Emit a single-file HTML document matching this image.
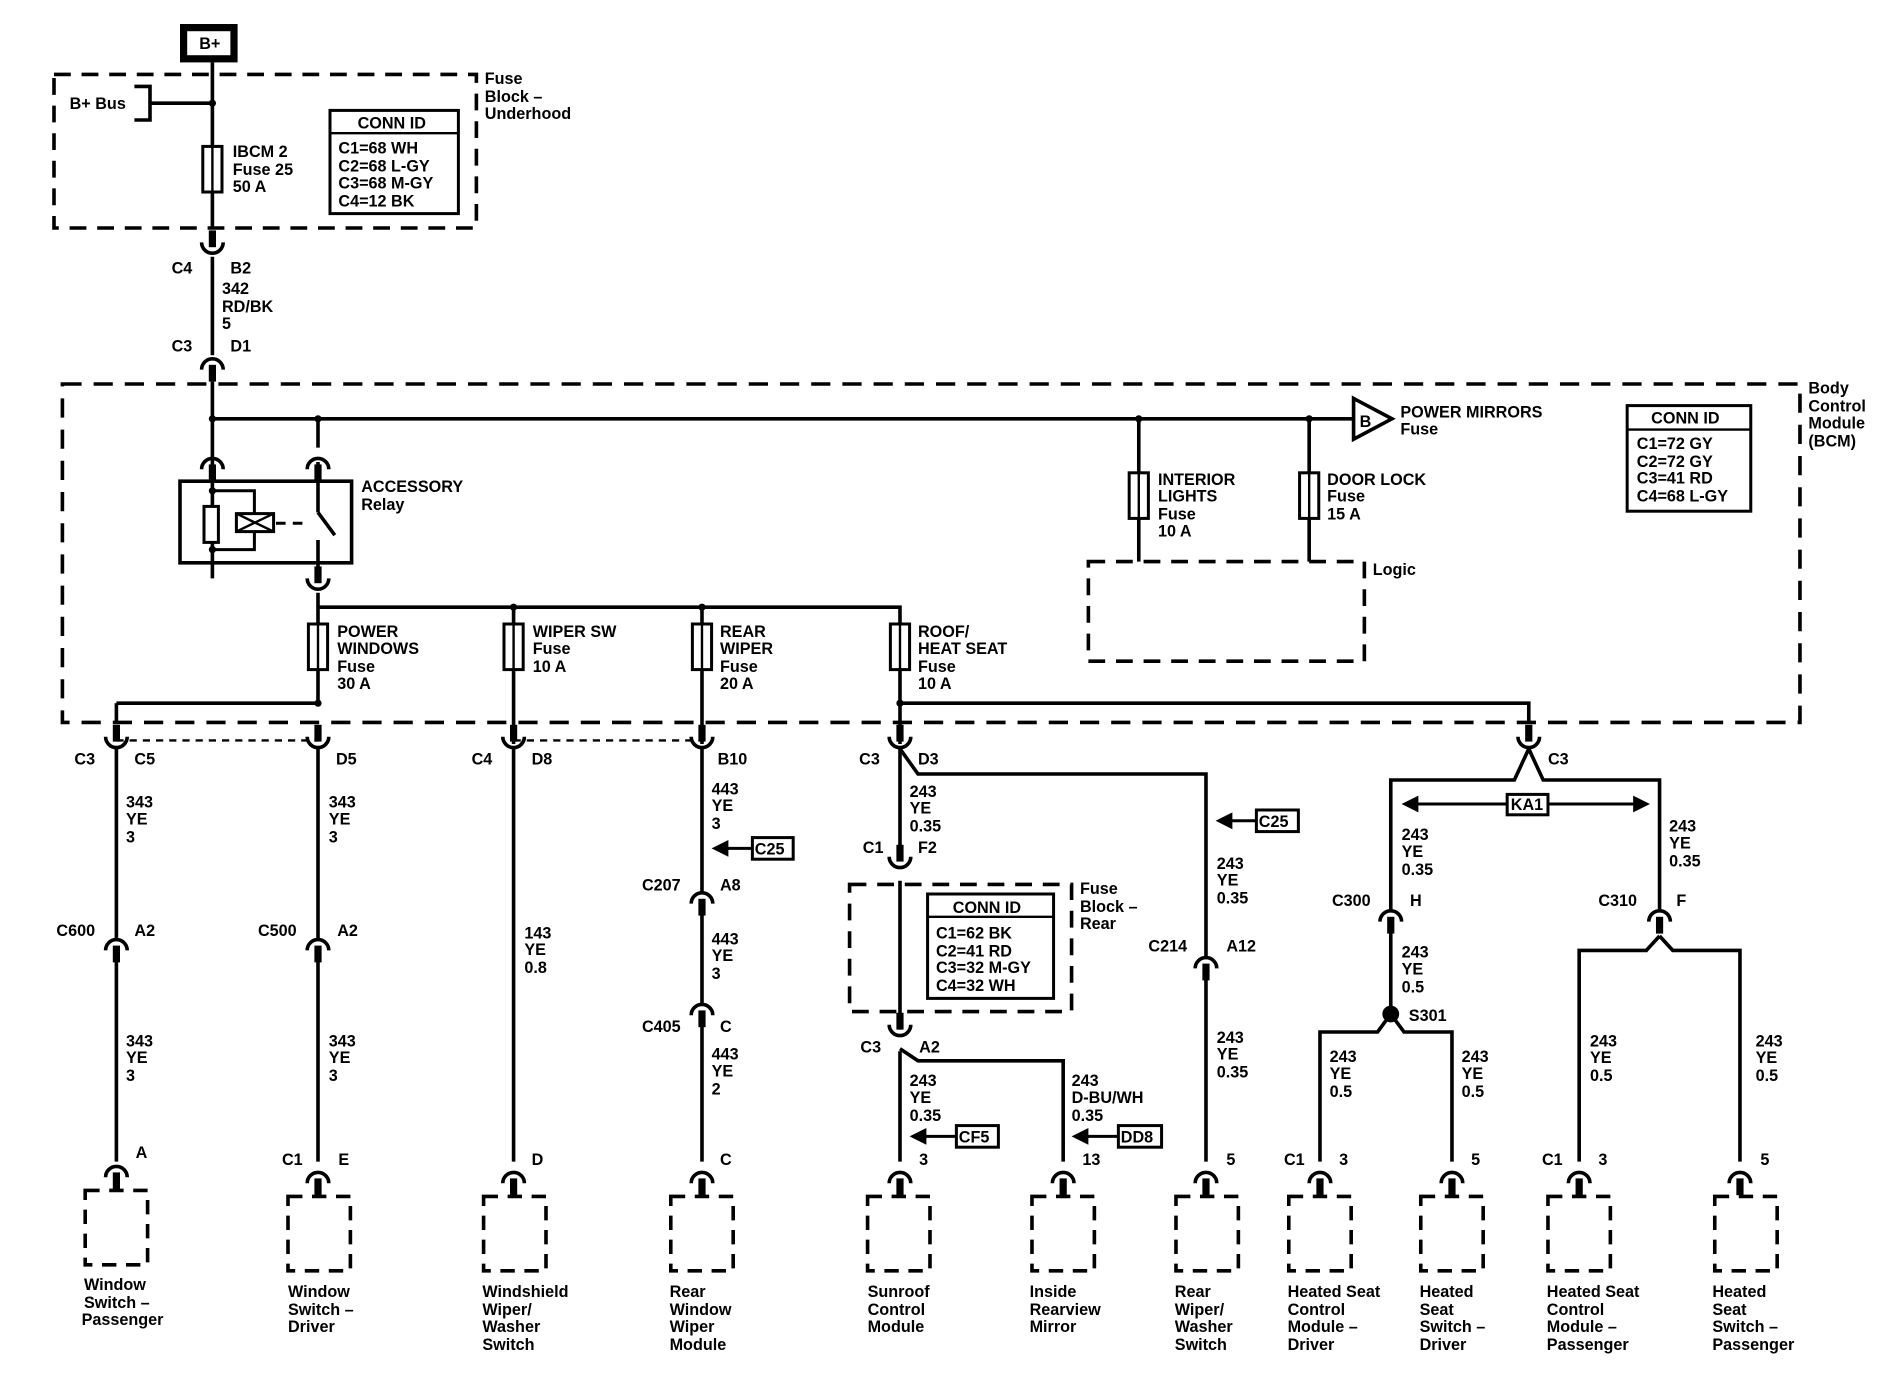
<!DOCTYPE html>
<html><head><meta charset="utf-8"><style>
html,body{margin:0;padding:0;background:#fff}
svg{display:block}
text{font-family:"Liberation Sans",Arial,sans-serif;font-size:13.5px;font-weight:bold;fill:#000}
</style></head><body>
<svg width="1880" height="1392" viewBox="0 0 1566.7 1160" xmlns="http://www.w3.org/2000/svg">
<defs>
<g id="cu"><path d="M0,-16V-2" stroke="#000" stroke-width="6"/><path d="M-9,-6 A9,9 0 0 0 9,-6" fill="none" stroke="#000" stroke-width="3"/></g>
<g id="ca"><path d="M0,2V16" stroke="#000" stroke-width="6"/><path d="M-9,6 A9,9 0 0 1 9,6" fill="none" stroke="#000" stroke-width="3"/></g>
<g id="fuse"><rect x="-8" y="0" width="16" height="38" fill="#fff" stroke="#000" stroke-width="2.5"/><path d="M0,0V38" stroke="#000" stroke-width="2"/></g>
<g id="bx"><rect x="-26" y="0" width="52" height="62" fill="none" stroke="#000" stroke-width="3" stroke-dasharray="12,8"/></g>
</defs>
<g fill="none" stroke="#000" stroke-width="3">
<rect x="153" y="23" width="42" height="26" stroke-width="6"/>
<rect x="45" y="62" width="352" height="128" stroke-dasharray="14,9"/>
<path d="M177,52V190 M177,214V296 M177,318V482"/>
<path d="M112,72H125V100H112 M125,86H177"/>
<rect x="275" y="92" width="107" height="86" stroke-width="2.5"/><path d="M275,111H382" stroke-width="2"/>
<rect x="52" y="320" width="1448" height="282" stroke-dasharray="16,10"/>
<path d="M177,349H1128 M265,349V373"/>
<path d="M1128,332L1160,349L1128,366Z" fill="#fff"/>
<rect x="150" y="401" width="143" height="68"/>
<path d="M177,409H212V428 M212,443V458H177" stroke-width="2.5"/>
<rect x="197" y="428" width="31" height="15" stroke-width="2.5"/><path d="M197,428L228,443M197,443L228,428" stroke-width="2"/>
<path d="M230,436H258" stroke-dasharray="8,6" stroke-width="2.5"/>
<path d="M265,385V427 M265,427L279,446 M265,450V480 M265,494V586"/>
<path d="M265,506H750V586 M428,506V620 M585,506V620"/>
<path d="M97,586H265 M750,586H1274V602 M750,586V620 M949,349V468 M1091,349V468"/>
<rect x="907" y="468" width="230" height="83" stroke-dasharray="14,9"/>
<rect x="1356" y="338" width="103" height="88" stroke-width="2.5"/><path d="M1356,358H1459" stroke-width="2"/>
<path d="M97,586V602"/>
<path d="M97,617H265 M428,617H585" stroke-width="2" stroke-dasharray="6,5"/>
<path d="M97,624V782 M97,800V968 M265,624V782 M265,800V968 M428,624V968 M585,624V743 M585,761V836 M585,854V968"/>
<path d="M750,624V716 M750,734V858 M750,624L765,645H1005V797 M1005,815V968 M750,874L765,884H886V968 M750,876V968"/>
<rect x="708" y="737" width="185" height="106" stroke-dasharray="14,9"/>
<rect x="773" y="745" width="105" height="87" stroke-width="2.5"/><path d="M773,764H878" stroke-width="2"/>
<path d="M1274,624L1262,650H1159V758 M1274,624L1286,650H1383V758 M1159,776V845 M1159,845L1148,860H1100V968 M1159,845L1170,860H1210V968 M1383,780L1372,792H1316V968 M1383,780L1394,792H1450V968"/>
<path d="M1180,670H1362" stroke-width="2.5"/>
<rect x="1256" y="662" width="34" height="17" fill="#fff" stroke-width="2.5"/>
<rect x="627" y="698" width="34" height="18" stroke-width="2.5"/><path d="M605,707H627" stroke-width="2.5"/>
<rect x="1047" y="675" width="35" height="18" stroke-width="2.5"/><path d="M1025,684H1047" stroke-width="2.5"/>
<rect x="797" y="938" width="35" height="18" stroke-width="2.5"/><path d="M770,947H797" stroke-width="2.5"/>
<rect x="932" y="938" width="36" height="18" stroke-width="2.5"/><path d="M905,947H932" stroke-width="2.5"/>
</g>
<g fill="#000">
<path d="M1168,670L1182,663V677Z M1375,670L1361,663V677Z"/>
<path d="M593,707L607,700V714Z M1013,684L1027,677V691Z M758,947L772,940V954Z M893,947L907,940V954Z"/>
<circle cx="177" cy="86" r="3"/><circle cx="177" cy="349" r="3"/><circle cx="265" cy="349" r="3"/><circle cx="949" cy="349" r="3"/><circle cx="1091" cy="349" r="3"/>
<circle cx="177" cy="409" r="3"/><circle cx="177" cy="458" r="3"/><circle cx="428" cy="506" r="3"/><circle cx="585" cy="506" r="3"/><circle cx="265" cy="586" r="3"/><circle cx="750" cy="586" r="3"/>
<circle cx="1159" cy="845" r="7"/>
</g>
<rect x="170" y="422" width="12" height="30" fill="#fff" stroke="#000" stroke-width="2.5"/>
<use href="#fuse" x="177" y="122"/>
<use href="#fuse" x="265" y="520"/><use href="#fuse" x="428" y="520"/><use href="#fuse" x="585" y="520"/><use href="#fuse" x="750" y="520"/>
<use href="#fuse" x="949" y="394"/><use href="#fuse" x="1091" y="394"/>
<use href="#cu" x="177" y="208"/><use href="#ca" x="177" y="302"/>
<use href="#ca" x="177" y="385"/><use href="#ca" x="265" y="385"/><use href="#cu" x="265" y="488"/>
<use href="#cu" x="97" y="620"/><use href="#cu" x="265" y="620"/><use href="#cu" x="428" y="620"/><use href="#cu" x="585" y="620"/><use href="#cu" x="750" y="620"/><use href="#cu" x="1274" y="620"/>
<use href="#ca" x="97" y="786"/><use href="#ca" x="265" y="786"/><use href="#ca" x="585" y="747"/><use href="#ca" x="585" y="840"/>
<use href="#cu" x="750" y="720"/><use href="#cu" x="750" y="860"/><use href="#ca" x="1005" y="801"/>
<use href="#ca" x="1159" y="762"/><use href="#ca" x="1383" y="762"/>
<use href="#ca" x="97" y="975"/><use href="#ca" x="265" y="980"/><use href="#ca" x="428" y="980"/><use href="#ca" x="585" y="980"/><use href="#ca" x="750" y="980"/><use href="#ca" x="886" y="980"/><use href="#ca" x="1005" y="980"/><use href="#ca" x="1100" y="980"/><use href="#ca" x="1210" y="980"/><use href="#ca" x="1316" y="980"/><use href="#ca" x="1450" y="980"/>
<use href="#bx" x="97" y="992"/><use href="#bx" x="266" y="997"/><use href="#bx" x="429" y="997"/><use href="#bx" x="585" y="997"/><use href="#bx" x="749" y="997"/><use href="#bx" x="886" y="997"/><use href="#bx" x="1006" y="997"/><use href="#bx" x="1100" y="997"/><use href="#bx" x="1210" y="997"/><use href="#bx" x="1316" y="997"/><use href="#bx" x="1455" y="997"/>
<text x="166" y="41">B+</text>
<text x="58" y="91">B+ Bus</text>
<text x="404" y="70">Fuse</text><text x="404" y="85">Block –</text><text x="404" y="99">Underhood</text>
<text x="194" y="131">IBCM 2</text><text x="194" y="146">Fuse 25</text><text x="194" y="160">50 A</text>
<text x="298" y="107">CONN ID</text><text x="282" y="128">C1=68 WH</text><text x="282" y="143">C2=68 L-GY</text><text x="282" y="157">C3=68 M-GY</text><text x="282" y="172">C4=12 BK</text>
<text x="143" y="228">C4</text><text x="192" y="228">B2</text>
<text x="185" y="245">342</text><text x="185" y="260">RD/BK</text><text x="185" y="274">5</text>
<text x="143" y="293">C3</text><text x="192" y="293">D1</text>
<text x="1507" y="328">Body</text><text x="1507" y="343">Control</text><text x="1507" y="357">Module</text><text x="1507" y="372">(BCM)</text>
<text x="1133" y="356">B</text>
<text x="1167" y="348">POWER MIRRORS</text><text x="1167" y="362">Fuse</text>
<text x="1376" y="353">CONN ID</text><text x="1364" y="374">C1=72 GY</text><text x="1364" y="389">C2=72 GY</text><text x="1364" y="403">C3=41 RD</text><text x="1364" y="418">C4=68 L-GY</text>
<text x="301" y="410">ACCESSORY</text><text x="301" y="425">Relay</text>
<text x="965" y="404">INTERIOR</text><text x="965" y="418">LIGHTS</text><text x="965" y="433">Fuse</text><text x="965" y="447">10 A</text>
<text x="1106" y="404">DOOR LOCK</text><text x="1106" y="418">Fuse</text><text x="1106" y="433">15 A</text>
<text x="1144" y="479">Logic</text>
<text x="281" y="531">POWER</text><text x="281" y="545">WINDOWS</text><text x="281" y="560">Fuse</text><text x="281" y="574">30 A</text>
<text x="444" y="531">WIPER SW</text><text x="444" y="545">Fuse</text><text x="444" y="560">10 A</text>
<text x="600" y="531">REAR</text><text x="600" y="545">WIPER</text><text x="600" y="560">Fuse</text><text x="600" y="574">20 A</text>
<text x="765" y="531">ROOF/</text><text x="765" y="545">HEAT SEAT</text><text x="765" y="560">Fuse</text><text x="765" y="574">10 A</text>
<text x="62" y="637">C3</text><text x="112" y="637">C5</text><text x="280" y="637">D5</text><text x="393" y="637">C4</text><text x="443" y="637">D8</text><text x="598" y="637">B10</text><text x="716" y="637">C3</text><text x="765" y="637">D3</text><text x="1290" y="637">C3</text>
<text x="105" y="673">343</text><text x="105" y="687">YE</text><text x="105" y="702">3</text>
<text x="274" y="673">343</text><text x="274" y="687">YE</text><text x="274" y="702">3</text>
<text x="593" y="662">443</text><text x="593" y="676">YE</text><text x="593" y="691">3</text>
<text x="629" y="712">C25</text>
<text x="758" y="664">243</text><text x="758" y="678">YE</text><text x="758" y="693">0.35</text>
<text x="1049" y="689">C25</text>
<text x="1259" y="675">KA1</text>
<text x="1168" y="700">243</text><text x="1168" y="714">YE</text><text x="1168" y="729">0.35</text>
<text x="1391" y="693">243</text><text x="1391" y="707">YE</text><text x="1391" y="722">0.35</text>
<text x="1014" y="724">243</text><text x="1014" y="738">YE</text><text x="1014" y="753">0.35</text>
<text x="719" y="711">C1</text><text x="765" y="711">F2</text>
<text x="535" y="742">C207</text><text x="600" y="742">A8</text>
<text x="900" y="745">Fuse</text><text x="900" y="760">Block –</text><text x="900" y="774">Rear</text>
<text x="794" y="761">CONN ID</text><text x="780" y="782">C1=62 BK</text><text x="780" y="797">C2=41 RD</text><text x="780" y="811">C3=32 M-GY</text><text x="780" y="826">C4=32 WH</text>
<text x="1110" y="755">C300</text><text x="1175" y="755">H</text><text x="1332" y="755">C310</text><text x="1397" y="755">F</text>
<text x="47" y="780">C600</text><text x="112" y="780">A2</text><text x="215" y="780">C500</text><text x="281" y="780">A2</text>
<text x="437" y="782">143</text><text x="437" y="796">YE</text><text x="437" y="811">0.8</text>
<text x="593" y="787">443</text><text x="593" y="801">YE</text><text x="593" y="816">3</text>
<text x="957" y="793">C214</text><text x="1022" y="793">A12</text>
<text x="1168" y="798">243</text><text x="1168" y="812">YE</text><text x="1168" y="827">0.5</text>
<text x="1174" y="851">S301</text>
<text x="535" y="860">C405</text><text x="600" y="860">C</text>
<text x="717" y="877">C3</text><text x="766" y="877">A2</text>
<text x="105" y="872">343</text><text x="105" y="886">YE</text><text x="105" y="901">3</text>
<text x="274" y="872">343</text><text x="274" y="886">YE</text><text x="274" y="901">3</text>
<text x="593" y="883">443</text><text x="593" y="897">YE</text><text x="593" y="912">2</text>
<text x="1014" y="869">243</text><text x="1014" y="883">YE</text><text x="1014" y="898">0.35</text>
<text x="1108" y="885">243</text><text x="1108" y="899">YE</text><text x="1108" y="914">0.5</text>
<text x="1218" y="885">243</text><text x="1218" y="899">YE</text><text x="1218" y="914">0.5</text>
<text x="1325" y="872">243</text><text x="1325" y="886">YE</text><text x="1325" y="901">0.5</text>
<text x="1463" y="872">243</text><text x="1463" y="886">YE</text><text x="1463" y="901">0.5</text>
<text x="758" y="905">243</text><text x="758" y="919">YE</text><text x="758" y="934">0.35</text>
<text x="893" y="905">243</text><text x="893" y="919">D-BU/WH</text><text x="893" y="934">0.35</text>
<text x="799" y="952">CF5</text><text x="934" y="952">DD8</text>
<text x="113" y="965">A</text><text x="235" y="971">C1</text><text x="282" y="971">E</text><text x="443" y="971">D</text><text x="600" y="971">C</text><text x="766" y="971">3</text><text x="902" y="971">13</text><text x="1022" y="971">5</text><text x="1070" y="971">C1</text><text x="1116" y="971">3</text><text x="1226" y="971">5</text><text x="1285" y="971">C1</text><text x="1332" y="971">3</text><text x="1467" y="971">5</text>
<text x="70" y="1075">Window</text><text x="70" y="1090">Switch –</text><text x="68" y="1104">Passenger</text>
<text x="240" y="1081">Window</text><text x="240" y="1096">Switch –</text><text x="240" y="1110">Driver</text>
<text x="402" y="1081">Windshield</text><text x="402" y="1096">Wiper/</text><text x="402" y="1110">Washer</text><text x="402" y="1125">Switch</text>
<text x="558" y="1081">Rear</text><text x="558" y="1096">Window</text><text x="558" y="1110">Wiper</text><text x="558" y="1125">Module</text>
<text x="723" y="1081">Sunroof</text><text x="723" y="1096">Control</text><text x="723" y="1110">Module</text>
<text x="858" y="1081">Inside</text><text x="858" y="1096">Rearview</text><text x="858" y="1110">Mirror</text>
<text x="979" y="1081">Rear</text><text x="979" y="1096">Wiper/</text><text x="979" y="1110">Washer</text><text x="979" y="1125">Switch</text>
<text x="1073" y="1081">Heated Seat</text><text x="1073" y="1096">Control</text><text x="1073" y="1110">Module –</text><text x="1073" y="1125">Driver</text>
<text x="1183" y="1081">Heated</text><text x="1183" y="1096">Seat</text><text x="1183" y="1110">Switch –</text><text x="1183" y="1125">Driver</text>
<text x="1289" y="1081">Heated Seat</text><text x="1289" y="1096">Control</text><text x="1289" y="1110">Module –</text><text x="1289" y="1125">Passenger</text>
<text x="1427" y="1081">Heated</text><text x="1427" y="1096">Seat</text><text x="1427" y="1110">Switch –</text><text x="1427" y="1125">Passenger</text>
</svg>
</body></html>
